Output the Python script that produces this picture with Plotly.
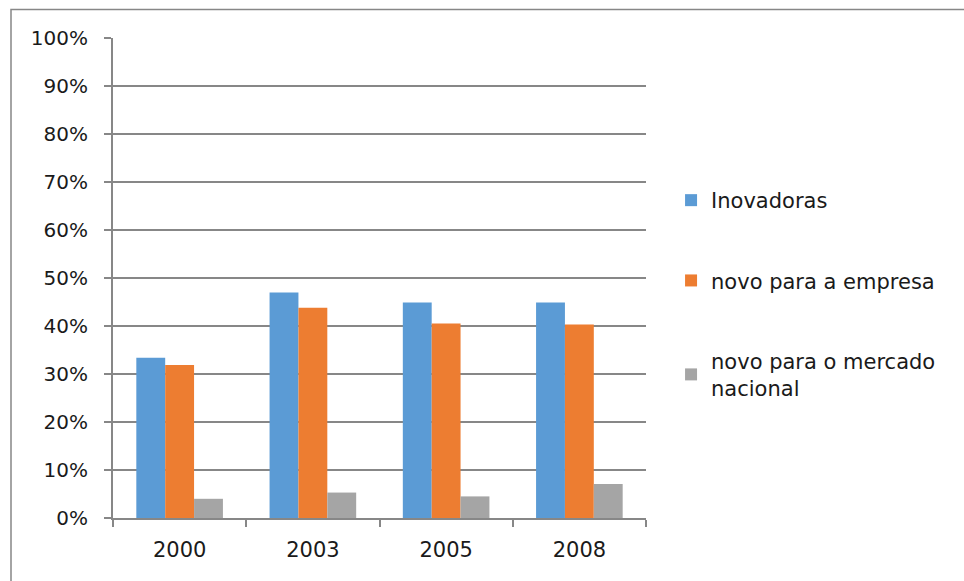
import plotly.graph_objects as go

years = ["2000", "2003", "2005", "2008"]
inovadoras = [0.334, 0.470, 0.449, 0.449]
novo_empresa = [0.319, 0.438, 0.405, 0.403]
novo_mercado = [0.040, 0.053, 0.045, 0.071]

series_names = ["Inovadoras", "novo para a empresa", "novo para o mercado<br>nacional"]
series_values = [inovadoras, novo_empresa, novo_mercado]
colors = ["#5B9BD5", "#ED7D31", "#A5A5A5"]

fig = go.Figure()
for i, (name, vals, col) in enumerate(zip(series_names, series_values, colors)):
    fig.add_trace(go.Bar(x=years, y=vals, name=name, marker=dict(color=col, line=dict(width=0)),
                         legendgroup=f"g{i}"))

L, R, T, B = 113, 318, 38, 63
W, H = 964, 581
pw = W - L - R
ph = H - T - B

fig.update_layout(
    width=W, height=H,
    margin=dict(l=L, r=R, t=T, b=B),
    paper_bgcolor="white", plot_bgcolor="white",
    barmode="group", bargap=0.35, bargroupgap=0,
    font=dict(family="DejaVu Sans, sans-serif", size=20, color="#1a1a1a"),
    showlegend=True,
    legend=dict(x=1.047, y=(H - B - 180) / ph, xanchor="left", yanchor="top",
                tracegroupgap=50, traceorder="grouped",
                font=dict(size=21), itemwidth=30,
                bgcolor="rgba(0,0,0,0)"),
    xaxis=dict(type="category", showline=True, linecolor="#878787", linewidth=2,
               ticks="outside", tickson="boundaries", ticklen=7, tickcolor="#878787", tickwidth=2,
               showgrid=False, ticklabelstandoff=12, tickfont=dict(size=21)),
    yaxis=dict(range=[0, 1.0], dtick=0.1, tickformat=".0%", showline=True, linecolor="#878787",
               linewidth=2, ticks="outside", ticklen=7, tickcolor="#878787", tickwidth=2,
               showgrid=True, gridcolor="#878787", gridwidth=1.5, zeroline=False,
               ticklabelstandoff=12),
)

# outer chart border
x0 = (11 - L) / pw
x1 = (990 - L) / pw
y1 = (H - B - 9.5) / ph
y0 = (H - B - 620) / ph
fig.add_shape(type="rect", xref="paper", yref="paper", x0=x0, x1=x1, y0=y0, y1=y1,
              line=dict(color="#878787", width=1.5), fillcolor="rgba(0,0,0,0)", layer="below")

fig.write_html("out.html")
